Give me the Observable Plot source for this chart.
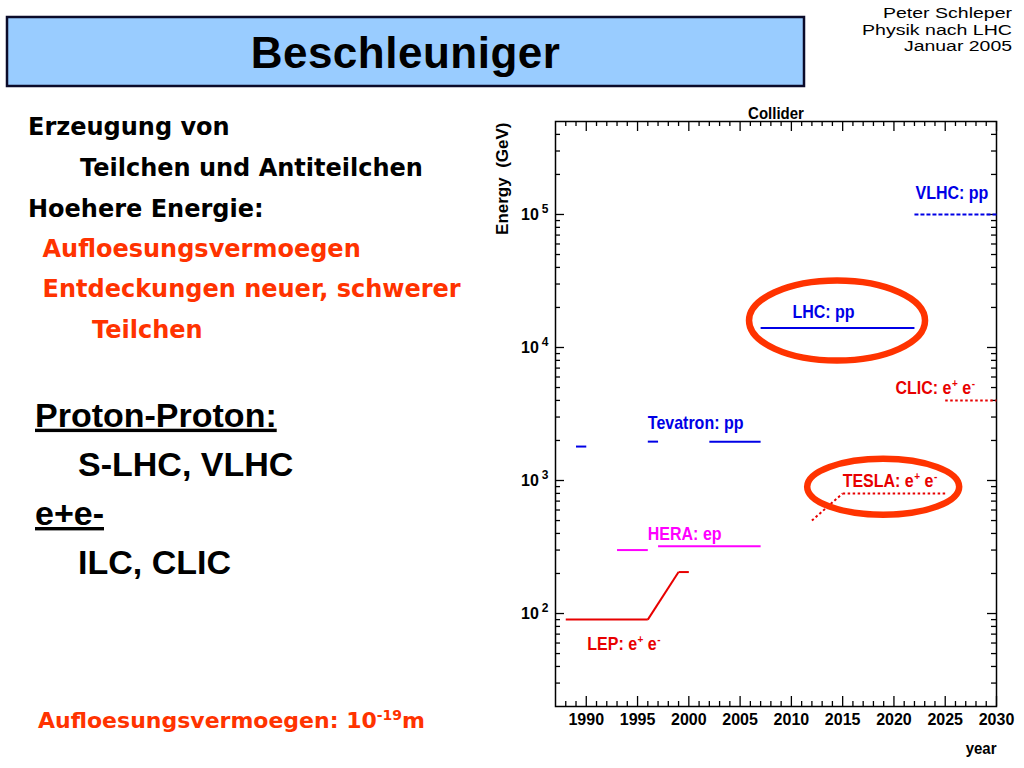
<!DOCTYPE html>
<html><head><meta charset="utf-8">
<script src="https://cdn.jsdelivr.net/npm/d3@7"></script>
<script src="https://cdn.jsdelivr.net/npm/@observablehq/plot@0.6"></script>
<style>
html,body{margin:0;padding:0;background:#fff;}
#page{position:relative;width:1024px;height:768px;overflow:hidden;background:#fff;}
#slide{position:absolute;left:0;top:0;}
#chart{position:absolute;left:480px;top:95px;}
</style></head><body>
<div id="page">
<svg id="slide" width="1024" height="768" xmlns="http://www.w3.org/2000/svg">
  <rect x="7" y="17" width="797" height="69" fill="#99ccff" stroke="#0b0b2a" stroke-width="2.5"/>
  <text x="405.5" y="68" text-anchor="middle" font-family="'Liberation Sans', Arial, sans-serif" font-weight="bold" font-size="44" letter-spacing="0.5">Beschleuniger</text>
  <g font-family="'Liberation Sans', Arial, sans-serif" font-size="15.5" text-anchor="end" fill="#000">
    <text x="1012" y="18" textLength="129" lengthAdjust="spacingAndGlyphs">Peter Schleper</text>
    <text x="1012" y="34.5" textLength="150" lengthAdjust="spacingAndGlyphs">Physik nach LHC</text>
    <text x="1012" y="51" textLength="108" lengthAdjust="spacingAndGlyphs">Januar 2005</text>
  </g>
  <g font-family="'DejaVu Sans', sans-serif" font-weight="bold" font-size="24">
    <text x="28" y="135" fill="#000">Erzeugung von</text>
    <text x="80" y="176" fill="#000">Teilchen und Antiteilchen</text>
    <text x="28" y="217" fill="#000">Hoehere Energie:</text>
    <text x="42.5" y="257" fill="#ff3300">Aufloesungsvermoegen</text>
    <text x="42.5" y="297" fill="#ff3300">Entdeckungen neuer, schwerer</text>
    <text x="92" y="338" fill="#ff3300">Teilchen</text>
  </g>
  <g font-family="'Liberation Sans', Arial, sans-serif" font-weight="bold" font-size="34" fill="#000">
    <text x="35" y="426.7" text-decoration="underline">Proton-Proton:</text>
    <text x="78" y="476">S-LHC, VLHC</text>
    <text x="35" y="525" text-decoration="underline">e+e-</text>
    <text x="78" y="574">ILC, CLIC</text>
  </g>
  <text x="38" y="728" font-family="'DejaVu Sans', sans-serif" font-weight="bold" font-size="22" fill="#ff3300">Aufloesungsvermoegen: 10<tspan font-size="14" dy="-8">-19</tspan><tspan dy="8">m</tspan></text>
</svg>
<div id="chart"></div>
</div>
<script>
// ---------------- data ----------------
const machines = ["LEP", "HERA", "Tevatron", "LHC", "VLHC", "TESLA", "CLIC"];

// line segments (year → year, energy in GeV)
const segMachine   = ["LEP", "LEP", "LEP", "HERA", "HERA", "Tevatron", "Tevatron", "Tevatron", "LHC", "VLHC", "TESLA", "TESLA", "CLIC"];
const segStartYear = [1988, 1996, 1999, 1993, 1997, 1989, 1996, 2002, 2007, 2022, 2012, 2015, 2025];
const segEndYear   = [1996, 1999, 2000, 1996, 2007, 1990, 1997, 2007, 2022, 2030, 2015, 2025, 2030];
const segStartGeV  = [90, 90, 205, 300, 320, 1800, 1960, 1960, 14000, 100000, 500, 800, 4000];
const segEndGeV    = [90, 205, 205, 300, 320, 1800, 1960, 1960, 14000, 100000, 800, 800, 4000];

// machine labels (start year, baseline energy)
const labelText    = ["VLHC: pp", "LHC: pp", "CLIC: e^+ e^-", "Tevatron: pp", "TESLA: e^+ e^-", "HERA: ep", "LEP: e^+ e^-"];
const labelMachine = ["VLHC", "LHC", "CLIC", "Tevatron", "TESLA", "HERA", "LEP"];
const labelYear    = [2022.1, 2010.1, 2020.15, 1996.0, 2015.0, 1996.0, 1990.1];
const labelGeV     = [131000, 16800, 4470, 2460, 890, 358, 53.3];

// highlighted machines (red ellipses)
const highlightName   = ["LHC", "TESLA"];
const highlightYear   = [2014.5, 2019.0];
const highlightGeV    = [15800, 890];

// axis ticks
const yearTicks   = [1990, 1995, 2000, 2005, 2010, 2015, 2020, 2025, 2030];
const energyTicks = [100, 1000, 10000, 100000];

// ---------------- layout & styles ----------------
const W = 540, H = 673, ML = 75, MR = 24, MT = 26, MB = 62;
const FW = W - ML - MR, FH = H - MT - MB;
const colorRange = ["#e80000", "#ff00ff", "#0000e6", "#0000e6", "#0000e6", "#e80000", "#e80000"];
const dashes = {VLHC: "4,2", TESLA: "2.5,2.5", CLIC: "2.5,2.5"};

const segs = segMachine.map((m, i) => ({machine: m, x1: segStartYear[i], x2: segEndYear[i], y1: segStartGeV[i], y2: segEndGeV[i]}));
const labels = labelText.map((t, i) => ({text: t, machine: labelMachine[i], year: labelYear[i], gev: labelGeV[i]}));
const minorYears = d3.range(1988, 2030).filter(y => y % 5 !== 0);
const minorE = [];
for (let k = 1; k <= 5; k++) for (let m = 2; m <= 9; m++) { const v = m * 10 ** k; if (v > 20 && v < 5e5) minorE.push(v); }

const linkOpts = {x1: "x1", x2: "x2", y1: "y1", y2: "y2", stroke: "machine", strokeWidth: 2};

const chart = Plot.plot({
  width: W, height: H,
  marginLeft: ML, marginRight: MR, marginTop: MT, marginBottom: MB,
  style: {fontFamily: "'Liberation Sans', Arial, sans-serif", fontSize: "15px", fontWeight: "bold", background: "transparent", overflow: "visible"},
  x: {domain: [1987, 2030], axis: null},
  y: {type: "log", domain: [20, 5e5], axis: null},
  color: {domain: machines, range: colorRange},
  marks: [
    Plot.frame({stroke: "#000", strokeWidth: 1.5}),
    // x ticks (inward, bottom & top)
    Plot.tickX(yearTicks, {x: d => d, insetTop: FH - 10, stroke: "#000", strokeWidth: 1.3}),
    Plot.tickX(yearTicks, {x: d => d, insetBottom: FH - 10, stroke: "#000", strokeWidth: 1.3}),
    Plot.tickX(minorYears, {x: d => d, insetTop: FH - 5, stroke: "#000", strokeWidth: 1.3}),
    Plot.tickX(minorYears, {x: d => d, insetBottom: FH - 5, stroke: "#000", strokeWidth: 1.3}),
    // y ticks (inward, left & right)
    Plot.tickY(energyTicks, {y: d => d, insetRight: FW - 9, stroke: "#000", strokeWidth: 1.3}),
    Plot.tickY(energyTicks, {y: d => d, insetLeft: FW - 9, stroke: "#000", strokeWidth: 1.3}),
    Plot.tickY(minorE, {y: d => d, insetRight: FW - 5, stroke: "#000", strokeWidth: 1.3}),
    Plot.tickY(minorE, {y: d => d, insetLeft: FW - 5, stroke: "#000", strokeWidth: 1.3}),
    // tick labels
    Plot.axisX(yearTicks, {anchor: "bottom", tickSize: 0, tickPadding: 7, tickFormat: d => `${d}`, label: null, fontSize: 16, fontWeight: "bold"}),
    Plot.axisY(energyTicks, {anchor: "left", tickSize: 0, tickPadding: 7, tickFormat: d => "10^" + Math.round(Math.log10(d)), label: null, fontSize: 16, fontWeight: "bold"}),
    // titles
    Plot.text(["Collider"], {text: d => d, frameAnchor: "top", lineAnchor: "bottom", dy: -3, fontSize: 15, fontWeight: "bold"}),
    Plot.text(["year"], {text: d => d, frameAnchor: "bottom-right", textAnchor: "end", lineAnchor: "bottom", dy: 47, fontSize: 15, fontWeight: "bold"}),
    Plot.text(["Energy  (GeV)"], {text: d => d, frameAnchor: "top-left", rotate: -90, textAnchor: "end", lineAnchor: "middle", dx: -53, dy: 1, fontSize: 17, fontWeight: "bold"}),
    // data
    Plot.link(segs.filter(d => !dashes[d.machine]), linkOpts),
    ...Object.keys(dashes).map(m => Plot.link(segs.filter(d => d.machine === m), {...linkOpts, strokeDasharray: dashes[m]})),
    Plot.text(labels, {x: "year", y: "gev", text: "text", fill: "machine", textAnchor: "start", lineAnchor: "bottom", fontSize: 16, fontWeight: "bold"})
  ]
});

// superscripts ("^x") rendered as raised tspans
function supify(el, supSize, shift, gap) {
  const s = el.textContent;
  if (!s.includes("^")) return;
  el.textContent = "";
  const re = /\^([^\s]+)|[^^]+/g;
  let m, raised = false;
  while ((m = re.exec(s))) {
    const ts = document.createElementNS("http://www.w3.org/2000/svg", "tspan");
    if (m[1] !== undefined) {
      ts.textContent = m[1];
      ts.setAttribute("font-size", supSize);
      ts.setAttribute("dy", raised ? 0 : -shift);
      if (gap) ts.setAttribute("dx", gap);
      raised = true;
    } else {
      ts.textContent = m[0];
      ts.setAttribute("dy", raised ? shift : 0);
      raised = false;
    }
    el.appendChild(ts);
  }
}
chart.querySelectorAll('g[aria-label="y-axis tick label"] text').forEach(t => supify(t, 12, 7, 3));
chart.querySelectorAll("text").forEach(t => supify(t, 10, 6, 0.5));

// the original PAW lettering is taller than Helvetica: stretch upright texts vertically
chart.querySelectorAll("text").forEach(t => {
  const tr = t.getAttribute("transform");
  if (tr && tr.startsWith("translate") && !tr.includes("rotate") && !t.hasAttribute("y")) {
    t.setAttribute("transform", tr + " scale(1,1.15)");
  }
});

// red ellipses around highlighted machines
const sx = chart.scale("x"), sy = chart.scale("y");
const radii = {LHC: [88, 40], TESLA: [76, 28]};
const g = d3.select(chart).append("g").attr("aria-label", "highlight");
highlightName.forEach((n, i) => {
  g.append("ellipse")
    .attr("cx", sx.apply(highlightYear[i]))
    .attr("cy", sy.apply(highlightGeV[i]))
    .attr("rx", radii[n][0]).attr("ry", radii[n][1])
    .attr("fill", "none").attr("stroke", "#ff3300").attr("stroke-width", 6.5);
});

document.getElementById("chart").appendChild(chart);
</script>
</body></html>
